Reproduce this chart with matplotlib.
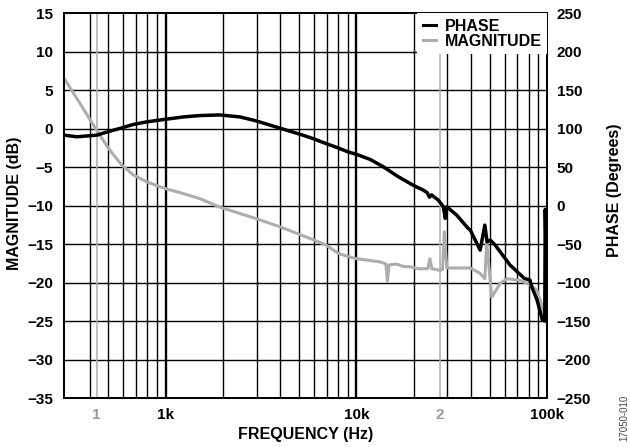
import matplotlib
matplotlib.use('Agg')
import matplotlib.pyplot as plt
from matplotlib.lines import Line2D

plt.rcParams['font.family'] = ['Liberation Sans', 'DejaVu Sans']
plt.rcParams['font.weight'] = 'bold'

# ---- data ----
phase_freq = [294, 341, 434, 510, 587, 676, 795, 1000, 1237, 1514, 1928, 2455,
              2990, 4025, 5110, 5900, 6920, 8030, 9020, 10060, 11830, 13880,
              16500, 19850, 22500, 23500, 24200, 24800, 26950, 28560, 29270,
              29800, 33600, 38600, 39600, 44600, 47200, 48500, 50400, 53500,
              64000, 76000, 81400, 83300, 88700, 94600, 97300, 97900, 99700]
phase_deg = [91.6, 89.5, 91.6, 96.8, 101, 105.5, 108.9, 112.3, 115.3, 117.1,
             117.9, 115.3, 110.1, 100.3, 92.5, 87.3, 80.8, 75, 70, 66.5, 60,
             50.4, 38, 26.6, 20, 17, 11, 14, 7, -1, -16.6, -1.5, -12.3, -29.6,
             -31.8, -57.8, -25.3, -47, -44.8, -51.3, -77.2, -94.5, -96.8,
             -105.8, -122.7, -148.7, -150, -5, -105]

mag_freq = [294, 355, 434, 510, 587, 676, 795, 1000, 1189, 1514, 1928, 2990,
            4025, 5110, 5900, 6920, 8030, 9020, 10060, 13290, 14000, 14300,
            14540, 14850, 16300, 17680, 19850, 21100, 23700, 24300, 24900,
            27450, 28300, 28950, 29800, 39600, 44600, 47200, 48300, 51300,
            56800, 61700, 72200, 81400, 88500, 94400, 99900]
mag_db = [6.5, 3.3, -0.2, -2.8, -4.7, -6.0, -6.9, -7.8, -8.3, -9.1, -10.2,
          -11.7, -12.8, -13.8, -14.4, -15.1, -16.2, -16.6, -16.9, -17.3, -17.5,
          -17.6, -19.8, -17.7, -17.6, -17.9, -18.0, -18.2, -18.2, -16.9, -18.2,
          -18.4, -18.3, -13.4, -18.1, -18.1, -18.8, -19.5, -14.7, -21.9, -20.1,
          -19.5, -19.7, -20.3, -21.0, -23.1, -25.3]

mag_ticks = [15, 10, 5, 0, -5, -10, -15, -20, -25, -30, -35]
mag_tick_labels = ['15', '10', '5', '0', '\u22125', '\u221210', '\u221215',
                   '\u221220', '\u221225', '\u221230', '\u221235']
phase_ticks = [250, 200, 150, 100, 50, 0, -50, -100, -150, -200, -250]
phase_tick_labels = ['250', '200', '150', '100', '50', '0', '\u221250',
                     '\u2212100', '\u2212150', '\u2212200', '\u2212250']
x_ticks = [434, 1000, 10000, 27450, 100000]
x_tick_labels = ['1', '1k', '10k', '2', '100k']
x_tick_colors = ['#999999', 'black', 'black', '#999999', 'black']
marker_freqs = [434, 27450]
minor_grid = [400, 500, 600, 700, 800, 900,
              2000, 3000, 4000, 5000, 6000, 7000, 8000, 9000,
              20000, 30000, 40000, 50000, 60000, 70000, 80000, 90000]
major_grid = [1000, 10000]

GRAY = '#ADADAD'

fig = plt.figure(figsize=(6.3, 4.47), dpi=100)
ax = fig.add_axes([64.3 / 630, 49 / 447, 482.7 / 630, 384.7 / 447])
ax.set_xscale('log')
ax.set_xlim(294, 100000)
ax.set_ylim(-35, 15)

for f in minor_grid:
    ax.axvline(f, color='black', lw=1.0, zorder=1)
for f in major_grid:
    ax.axvline(f, color='black', lw=1.7, zorder=1)
for v in mag_ticks[1:-1]:
    ax.axhline(v, color='black', lw=1.0, zorder=1)
for f in marker_freqs:
    ax.axvline(f, color=GRAY, lw=1.1, zorder=1.5)

ax.plot(mag_freq, mag_db, color=GRAY, lw=2.2, zorder=3, solid_joinstyle='round')

ax.set_yticks(mag_ticks)
ax.set_yticklabels(mag_tick_labels)
ax.set_xticks(x_ticks)
ax.set_xticklabels(x_tick_labels)
ax.xaxis.set_minor_locator(matplotlib.ticker.NullLocator())
for lab, c in zip(ax.get_xticklabels(), x_tick_colors):
    lab.set_color(c)
ax.tick_params(axis='both', length=0, labelsize=11)
ax.tick_params(axis='y', pad=8)
ax.tick_params(axis='x', pad=7)

ax2 = ax.twinx()
ax2.set_ylim(-250, 250)
ax2.set_yticks(phase_ticks)
ax2.set_yticklabels(phase_tick_labels)
ax2.tick_params(axis='y', length=0, labelsize=11, pad=7)
ax2.plot(phase_freq, phase_deg, color='black', lw=2.5, zorder=4, solid_joinstyle='round')

for a in (ax, ax2):
    for s in a.spines.values():
        s.set_linewidth(1.3)
        s.set_color('black')

handles = [Line2D([], [], color='black', lw=2.2),
           Line2D([], [], color=GRAY, lw=2.2)]
leg = ax2.legend(handles, ['PHASE', 'MAGNITUDE'], loc='upper right',
                 bbox_to_anchor=(1, 1), borderaxespad=0, borderpad=0.35,
                 labelspacing=0.0, handlelength=0.85, handletextpad=0.5,
                 frameon=True, fancybox=False, framealpha=1,
                 prop={'size': 11.5, 'weight': 'bold'})
leg.get_frame().set_facecolor('white')
leg.get_frame().set_edgecolor('none')
leg.set_zorder(10)

fig.text(15 / 630, 1 - 203 / 447, 'MAGNITUDE (dB)', rotation=90,
         ha='center', va='center', fontsize=11.5, fontweight='bold')
fig.text(615 / 630, 1 - 190 / 447, 'PHASE (Degrees)', rotation=90,
         ha='center', va='center', fontsize=11.5, fontweight='bold')
fig.text(305.5 / 630, 1 - 435 / 447, 'FREQUENCY (Hz)',
         ha='center', va='center', fontsize=11.5, fontweight='bold')
fig.text(624 / 630, 1 - 418 / 447, '17050-010', rotation=90,
         ha='center', va='center', fontsize=7, fontweight='normal', color='#444444')

fig.savefig('out.png', dpi=100)
